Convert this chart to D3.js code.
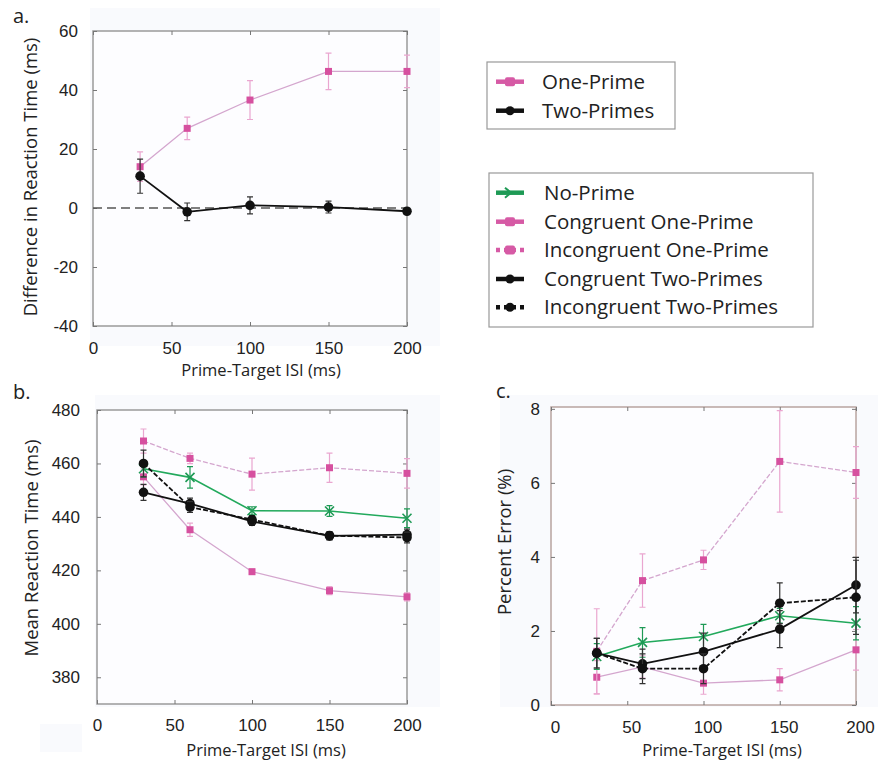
<!DOCTYPE html>
<html>
<head>
<meta charset="utf-8">
<script src="https://cdn.jsdelivr.net/npm/d3@7/dist/d3.min.js"></script>
<style>
  html, body { margin: 0; padding: 0; background: #ffffff; }
  svg { display: block; font-family: "Open Sans", "Noto Sans", sans-serif; }
</style>
</head>
<body>
<svg id="chart" width="878" height="762"></svg>
<script>
// ---------- DATA ----------
const isi = [30, 60, 100, 150, 200];
const xTicks = [0, 50, 100, 150, 200];

// Panel a: difference in reaction time (incongruent - congruent)
const aYTicks = [-40, -20, 0, 20, 40, 60];
const diffOnePrime = [14, 27, 36.6, 46.3, 46.3];
const diffOnePrimeErr = [5, 3.8, 6.6, 6.2, 5.5];
const diffTwoPrimes = [10.8, -1.3, 0.9, 0.3, -1.1];
const diffTwoPrimesErr = [5.8, 3, 2.9, 2, 1];

// Panel b: mean reaction time (ms)
const bYTicks = [380, 400, 420, 440, 460, 480];
const rtNoPrime = [458, 454.8, 442.3, 442.2, 439.5];
const rtNoPrimeErr = [3, 4, 1.5, 2, 3.5];
const rtCongOne = [455, 435.2, 419.5, 412.4, 410.1];
const rtCongOneErr = [3, 2.5, 1, 1.5, 1.5];
const rtIncongOne = [468.4, 461.9, 456, 458.4, 456.3];
const rtIncongOneErr = [4.5, 2, 6, 5.5, 5.5];
const rtCongTwo = [449.2, 445, 438.3, 432.9, 433.4];
const rtCongTwoErr = [3, 2, 1.5, 1.5, 2];
const rtIncongTwo = [460, 443.7, 439, 433, 432.3];
const rtIncongTwoErr = [5, 2, 1.5, 1.5, 2];

// Panel c: percent error (%)
const cYTicks = [0, 2, 4, 6, 8];
const peNoPrime = [1.31, 1.69, 1.85, 2.41, 2.21];
const peNoPrimeErr = [0.35, 0.4, 0.33, 0.2, 0.45];
const peCongOne = [0.75, 1.03, 0.59, 0.68, 1.49];
const peCongOneErr = [0.45, 0.3, 0.3, 0.3, 0.55];
const peIncongOne = [1.45, 3.36, 3.92, 6.58, 6.28];
const peIncongOneErr = [1.15, 0.72, 0.26, 1.37, 0.7];
const peCongTwo = [1.4, 1.11, 1.44, 2.05, 3.24];
const peCongTwoErr = [0.4, 0.4, 0.5, 0.5, 0.75];
const peIncongTwo = [1.4, 0.98, 0.98, 2.75, 2.91];
const peIncongTwoErr = [0.4, 0.4, 0.4, 0.55, 1.0];

const legend1Labels = ["One-Prime", "Two-Primes"];
const legend2Labels = ["No-Prime", "Congruent One-Prime", "Incongruent One-Prime", "Congruent Two-Primes", "Incongruent Two-Primes"];

// ---------- STYLES ----------
const PINK = "#d6509f", PINK_LINE = "#d4a6ce", PINK_ERR = "#eaa6d0";
const GREEN = "#1e9a55", GREEN_LINE = "#22a95c";
const BLACK = "#111111";
const styles = {
  noPrime:   {line: GREEN_LINE, err: GREEN, marker: "x", mc: GREEN, dash: null, w: 1.6},
  congOne:   {line: PINK_LINE, err: PINK_ERR, marker: "sq", mc: PINK, dash: null, w: 1.3},
  incongOne: {line: PINK_LINE, err: PINK_ERR, marker: "sq", mc: PINK, dash: "5,2", w: 1.3},
  congTwo:   {line: BLACK, err: "#333", marker: "ci", mc: BLACK, dash: null, w: 1.8},
  incongTwo: {line: BLACK, err: "#333", marker: "ci", mc: BLACK, dash: "5,2", w: 1.8},
  onePrime:  {line: PINK_LINE, err: PINK_ERR, marker: "sq", mc: PINK, dash: null, w: 1.3},
  twoPrimes: {line: BLACK, err: "#333", marker: "ci", mc: BLACK, dash: null, w: 1.8}
};

const svg = d3.select("#chart");

// faint panel backgrounds
const bgs = [[90, 8, 350, 338], [95, 395, 345, 312], [40, 724, 42, 28], [500, 395, 378, 312]];
svg.selectAll("rect.bg").data(bgs).enter().append("rect")
  .attr("x", d => d[0]).attr("y", d => d[1]).attr("width", d => d[2]).attr("height", d => d[3])
  .attr("fill", "#f9fafd");

function drawMarker(g, type, x, y, color) {
  if (type === "sq") {
    g.append("rect").attr("x", x - 3.5).attr("y", y - 3.5).attr("width", 7).attr("height", 7).attr("fill", color);
  } else if (type === "ci") {
    g.append("circle").attr("cx", x).attr("cy", y).attr("r", 4.8).attr("fill", color);
  } else if (type === "x") {
    const s = 4.5;
    g.append("path").attr("d", `M${x - s},${y - s}L${x + s},${y + s}M${x - s},${y + s}L${x + s},${y - s}`)
      .attr("stroke", color).attr("stroke-width", 1.6).attr("fill", "none");
  }
}

const fmt = d => String(d);

function panel(opts) {
  const {x0, x1, yTop, yBot, yDomain, yTicks, series, xLabelDx, yTickGap, yTitle, yTitleX, yTitleY, xTitleY, tickLabelY, frameColor} = opts;
  const x = d3.scaleLinear().domain([0, 200]).range([x0, x1]);
  const y = d3.scaleLinear().domain(yDomain).range([yBot, yTop]);
  const g = svg.append("g");

  // frame
  g.append("rect").attr("x", x0).attr("y", yTop).attr("width", x1 - x0).attr("height", yBot - yTop)
    .attr("fill", "#fdfdff").attr("stroke", frameColor || "#9a9a9a").attr("stroke-width", 1.5);

  // axes with inward ticks
  const axB = g.append("g").attr("transform", `translate(0,${yBot})`)
    .call(d3.axisBottom(x).tickValues(xTicks).tickFormat(fmt).tickSizeInner(-4).tickSizeOuter(0).tickPadding(0));
  axB.select(".domain").remove();
  axB.selectAll("line").attr("stroke", "#777");
  axB.selectAll("text").attr("y", tickLabelY - yBot).attr("dy", "0.35em").attr("dx", xLabelDx || 0)
    .attr("font-size", 17).attr("fill", "#222");

  const axT = g.append("g").attr("transform", `translate(0,${yTop})`)
    .call(d3.axisTop(x).tickValues(xTicks).tickSizeInner(-4).tickSizeOuter(0).tickFormat(""));
  axT.select(".domain").remove();
  axT.selectAll("line").attr("stroke", "#777");

  const axL = g.append("g").attr("transform", `translate(${x0},0)`)
    .call(d3.axisLeft(y).tickValues(yTicks).tickFormat(fmt).tickSizeInner(-4).tickSizeOuter(0).tickPadding(0));
  axL.select(".domain").remove();
  axL.selectAll("line").attr("stroke", "#777");
  axL.selectAll("text").attr("x", -yTickGap).attr("font-size", 17).attr("fill", "#222");

  const axR = g.append("g").attr("transform", `translate(${x1},0)`)
    .call(d3.axisRight(y).tickValues(yTicks).tickSizeInner(-4).tickSizeOuter(0).tickFormat(""));
  axR.select(".domain").remove();
  axR.selectAll("line").attr("stroke", "#777");

  if (opts.zeroLine) {
    g.append("line").attr("x1", x0).attr("x2", x1).attr("y1", y(0)).attr("y2", y(0))
      .attr("stroke", "#555").attr("stroke-width", 1.6).attr("stroke-dasharray", "9,5");
  }

  // series
  series.forEach(s => {
    const st = styles[s.key];
    const pts = isi.map((v, i) => ({x: v, y: s.values[i], e: s.err[i]}));
    const sg = g.append("g");
    pts.forEach(p => {
      const xx = x(p.x), yt = y(p.y + p.e), yb = y(p.y - p.e);
      sg.append("path").attr("d", `M${xx},${yt}L${xx},${yb}M${xx - 3},${yt}L${xx + 3},${yt}M${xx - 3},${yb}L${xx + 3},${yb}`)
        .attr("stroke", st.err).attr("stroke-width", 1.2).attr("fill", "none");
    });
    sg.append("path").datum(pts)
      .attr("d", d3.line().x(d => x(d.x)).y(d => y(d.y)))
      .attr("fill", "none").attr("stroke", st.line).attr("stroke-width", st.w)
      .attr("stroke-dasharray", st.dash);
    pts.forEach(p => drawMarker(sg, st.marker, x(p.x), y(p.y), st.mc));
  });

  // titles
  g.append("text").attr("transform", `translate(${yTitleX},${yTitleY}) rotate(-90)`)
    .attr("text-anchor", "middle").attr("dy", "0.35em").attr("font-size", 18.5).attr("fill", "#222").text(yTitle);
  g.append("text").attr("x", opts.xTitleX).attr("y", xTitleY).attr("text-anchor", "middle").attr("dy", "0.35em")
    .attr("font-size", 16.5).attr("fill", "#222").text("Prime-Target ISI (ms)");
}

// Panel a
panel({
  x0: 93, x1: 407, yTop: 31, yBot: 326, yDomain: [-40, 60], yTicks: aYTicks, yTickGap: 15,
  tickLabelY: 348, xTitleX: 261, xTitleY: 370,
  yTitle: "Difference in Reaction Time (ms)", yTitleX: 31, yTitleY: 177, zeroLine: true,
  series: [
    {key: "onePrime", values: diffOnePrime, err: diffOnePrimeErr},
    {key: "twoPrimes", values: diffTwoPrimes, err: diffTwoPrimesErr}
  ]
});

// Panel b
panel({
  x0: 97, x1: 407, yTop: 410, yBot: 704, yDomain: [370, 480], yTicks: bYTicks, yTickGap: 17,
  tickLabelY: 725, xTitleX: 266, xTitleY: 750,
  yTitle: "Mean Reaction Time (ms)", yTitleX: 32, yTitleY: 548,
  series: [
    {key: "congOne", values: rtCongOne, err: rtCongOneErr},
    {key: "incongOne", values: rtIncongOne, err: rtIncongOneErr},
    {key: "noPrime", values: rtNoPrime, err: rtNoPrimeErr},
    {key: "congTwo", values: rtCongTwo, err: rtCongTwoErr},
    {key: "incongTwo", values: rtIncongTwo, err: rtIncongTwoErr}
  ]
});

// Panel c
panel({
  x0: 551, x1: 856, yTop: 407, yBot: 705, yDomain: [0, 8.05], yTicks: cYTicks, yTickGap: 11,
  tickLabelY: 727, xTitleX: 722, xTitleY: 750, xLabelDx: 4, frameColor: "#b8a4a0",
  yTitle: "Percent Error (%)", yTitleX: 505, yTitleY: 542,
  series: [
    {key: "congOne", values: peCongOne, err: peCongOneErr},
    {key: "incongOne", values: peIncongOne, err: peIncongOneErr},
    {key: "noPrime", values: peNoPrime, err: peNoPrimeErr},
    {key: "congTwo", values: peCongTwo, err: peCongTwoErr},
    {key: "incongTwo", values: peIncongTwo, err: peIncongTwoErr}
  ]
});

// panel letters
[["a.", 13, 16], ["b.", 13, 392], ["c.", 496, 391]].forEach(d => {
  svg.append("text").attr("x", d[1]).attr("y", d[2]).attr("dy", "0.35em").attr("font-size", 20).attr("fill", "#222").text(d[0]);
});

// legends
function legend(x, y, w, h, labels, keys, rowYs) {
  const g = svg.append("g");
  g.append("rect").attr("x", x).attr("y", y).attr("width", w).attr("height", h)
    .attr("fill", "#fff").attr("stroke", "#999").attr("stroke-width", 1.2);
  labels.forEach((lab, i) => {
    const st = styles[keys[i]];
    const ry = rowYs[i];
    const col = st.mc;
    g.append("line").attr("x1", 496).attr("x2", 524).attr("y1", ry).attr("y2", ry)
      .attr("stroke", col === PINK ? "#d65aa5" : col).attr("stroke-width", 4.5)
      .attr("stroke-dasharray", st.dash ? "4,4" : null);
    if (st.marker === "sq") {
      g.append("rect").attr("x", 505).attr("y", ry - 4.5).attr("width", 10).attr("height", 9).attr("rx", 2).attr("fill", "#d65aa5");
    } else if (st.marker === "ci") {
      g.append("circle").attr("cx", 510).attr("cy", ry).attr("r", 4.5).attr("fill", BLACK);
    } else {
      g.append("path").attr("d", `M505,${ry - 5}L511,${ry}L505,${ry + 5}`).attr("stroke", GREEN).attr("stroke-width", 2).attr("fill", "none");
    }
    g.append("text").attr("x", keys.length > 2 ? 544 : 542).attr("y", ry).attr("dy", "0.35em")
      .attr("font-size", 20.5).attr("fill", "#222").text(lab);
  });
}
legend(487, 62, 188, 67, legend1Labels, ["onePrime", "twoPrimes"], [81.7, 110.7]);
legend(489, 173, 324, 154, legend2Labels, ["noPrime", "congOne", "incongOne", "congTwo", "incongTwo"], [192.7, 221.7, 250, 279, 307.3]);
</script>
</body>
</html>
